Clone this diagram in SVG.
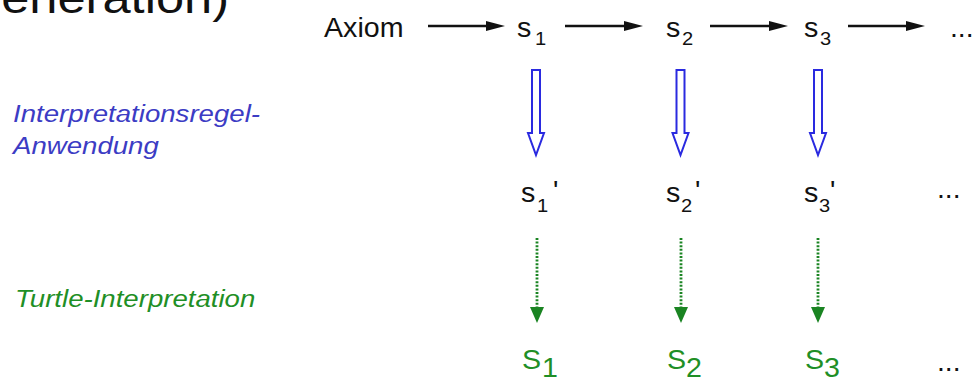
<svg xmlns="http://www.w3.org/2000/svg" width="973" height="383" viewBox="0 0 973 383">
<defs>
<style>
.t{font-family:"Liberation Sans",Arial,sans-serif;font-size:27px;fill:#111}
.sub{font-size:19px}
.lblB{font-family:"Liberation Sans",Arial,sans-serif;font-size:24px;font-style:italic;fill:#3c3cc4}
.lblG{font-family:"Liberation Sans",Arial,sans-serif;font-size:24px;font-style:italic;fill:#1f8f26}
.gS{font-family:"Liberation Sans",Arial,sans-serif;font-size:27px;fill:#1f8f26}
.ax{stroke:#111;stroke-width:2.3;fill:none}
.axh{fill:#111}
.hol{fill:#fff;stroke:#2a2ae0;stroke-width:2;stroke-linejoin:miter}
.dot{stroke:#1a8422;stroke-width:2.8;stroke-dasharray:2 1.6;fill:none}
.dh{fill:#1a8422}
</style>
</defs>
<rect width="973" height="383" fill="#fff"/>
<g id="title"><text class="t" style="font-size:44px" text-anchor="end" transform="translate(229,13) scale(1.15,1)">Generation)</text></g>
<g id="label-interpretation"><text class="lblB" transform="translate(13,122) scale(1.15,1)">Interpretationsregel-</text><text class="lblB" transform="translate(13,154) scale(1.15,1)">Anwendung</text></g>
<g id="label-turtle"><text class="lblG" transform="translate(15,307) scale(1.15,1)">Turtle-Interpretation</text></g>
<g id="axiom"><text class="t" transform="translate(324,37) scale(1.06,1)">Axiom</text></g>
<g id="s1"><text class="t" transform="translate(517,37) scale(1.06,1)">s</text><text class="t sub" transform="translate(535,45) scale(1.06,1)">1</text></g>
<g id="s2"><text class="t" transform="translate(666,37) scale(1.06,1)">s</text><text class="t sub" transform="translate(682,45) scale(1.06,1)">2</text></g>
<g id="s3"><text class="t" transform="translate(804,37) scale(1.06,1)">s</text><text class="t sub" transform="translate(820,45) scale(1.06,1)">3</text></g>
<g id="dots1"><text class="t" transform="translate(950,37) scale(1.05,1)">...</text></g>
<g id="s1p"><text class="t" transform="translate(521,202) scale(1.06,1)">s</text><text class="t sub" transform="translate(537,212) scale(1.06,1)">1</text><text class="t" transform="translate(553,200) scale(1.05,1)">'</text></g>
<g id="s2p"><text class="t" transform="translate(666,202) scale(1.06,1)">s</text><text class="t sub" transform="translate(681,212) scale(1.06,1)">2</text><text class="t" transform="translate(695,200) scale(1.05,1)">'</text></g>
<g id="s3p"><text class="t" transform="translate(804,202) scale(1.06,1)">s</text><text class="t sub" transform="translate(819,212) scale(1.06,1)">3</text><text class="t" transform="translate(830,200) scale(1.05,1)">'</text></g>
<g id="dots2"><text class="t" transform="translate(937,198) scale(1.05,1)">...</text></g>
<g id="S1"><text class="gS" transform="translate(522,369) scale(1.06,1)">S</text><text class="gS sub" transform="translate(542,377) scale(1.06,1)">1</text></g>
<g id="S2"><text class="gS" transform="translate(667,369) scale(1.06,1)">S</text><text class="gS sub" transform="translate(686,377) scale(1.06,1)">2</text></g>
<g id="S3"><text class="gS" transform="translate(805,369) scale(1.06,1)">S</text><text class="gS sub" transform="translate(824,377) scale(1.06,1)">3</text></g>
<g id="dots3"><text class="t" transform="translate(937,371) scale(1.05,1)">...</text></g>
<g id="connectors">
<line class="ax" x1="428" y1="26" x2="490" y2="26"/><polygon class="axh" points="486,21 505,26 486,31"/>
<line class="ax" x1="565" y1="26" x2="628" y2="26"/><polygon class="axh" points="624,21 643,26 624,31"/>
<line class="ax" x1="710" y1="26" x2="773" y2="26"/><polygon class="axh" points="769,21 788,26 769,31"/>
<line class="ax" x1="848" y1="26" x2="910" y2="26"/><polygon class="axh" points="906,21 925,26 906,31"/>
<polygon class="hol" points="532,70 540,70 540,133 544,133 536,155 528,133 532,133"/>
<polygon class="hol" points="676.5,70 684.5,70 684.5,133 688.5,133 680.5,155 672.5,133 676.5,133"/>
<polygon class="hol" points="814,70 822,70 822,133 826,133 818,155 810,133 814,133"/>
<line class="dot" x1="537" y1="238" x2="537" y2="309"/><polygon class="dh" points="530,307 544,307 537,323"/>
<line class="dot" x1="681" y1="238" x2="681" y2="309"/><polygon class="dh" points="674,307 688,307 681,323"/>
<line class="dot" x1="818" y1="238" x2="818" y2="309"/><polygon class="dh" points="811,307 825,307 818,323"/>
</g>
</svg>
